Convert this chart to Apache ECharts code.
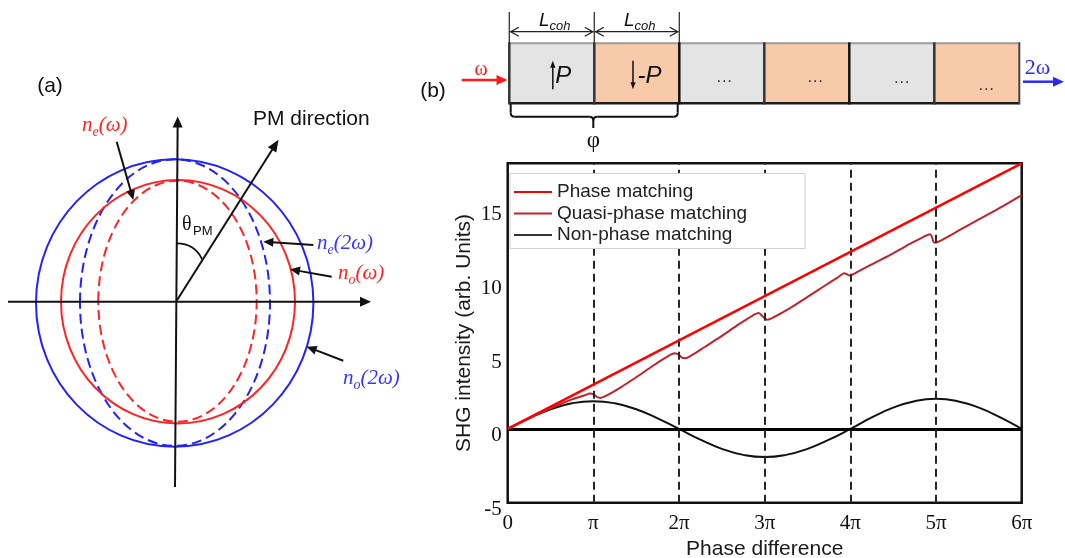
<!DOCTYPE html>
<html>
<head>
<meta charset="utf-8">
<script src="https://cdn.jsdelivr.net/npm/echarts@6/dist/echarts.min.js"></script>
<style>
  html, body { margin: 0; padding: 0; background: #fff; }
  #chart { width: 1065px; height: 558px; }
</style>
</head>
<body>
<div id="chart"></div>
<script>
// ---- data (phase in units of π) ----
const phaseTickLabels = ['0', 'π', '2π', '3π', '4π', '5π', '6π'];

const pmPhase = [0, 6];
const pmIntensity = [0, 18];

const qpmPhase = [0, 0.25, 0.5, 0.75, 0.9, 0.96, 1.0, 1.04, 1.08, 1.15, 1.3, 1.5, 1.7, 1.85, 1.95,
  2.0, 2.03, 2.07, 2.15, 2.3, 2.5, 2.7, 2.85, 2.93, 2.98, 3.03, 3.1, 3.3, 3.5, 3.7, 3.85, 3.93,
  3.96, 3.99, 4.1, 4.3, 4.5, 4.7, 4.85, 4.93, 4.95, 4.98, 5.05, 5.3, 5.5, 5.75, 6.0];
const qpmIntensity = [0, 0.74, 1.40, 2.0, 2.28, 2.40, 2.36, 2.18, 2.10, 2.25, 2.75, 3.50, 4.30, 4.85, 5.13,
  5.02, 4.85, 4.79, 5.00, 5.55, 6.30, 7.10, 7.65, 7.85, 7.60, 7.40, 7.55, 8.20, 8.95, 9.70, 10.25, 10.55,
  10.48, 10.40, 10.70, 11.30, 11.90, 12.55, 13.00, 13.20, 13.05, 12.62, 12.75, 13.55, 14.20, 15.00, 15.85];

const npmPhase = [0, 0.25, 0.5, 0.75, 1, 1.25, 1.5, 1.75, 2, 2.25, 2.5, 2.75, 3, 3.25, 3.5, 3.75,
  4, 4.25, 4.5, 4.75, 5, 5.25, 5.5, 5.75, 6];
const npmIntensity = [0, 0.72, 1.33, 1.74, 1.88, 1.74, 1.33, 0.72, 0, -0.73, -1.35, -1.76, -1.91, -1.76, -1.35, -0.73,
  0, 0.78, 1.44, 1.88, 2.04, 1.88, 1.44, 0.78, 0];

const markedPhases = [1, 2, 3, 4, 5];

// periodically poled crystal: sign of polarization per coherence length
const domainSigns = [1, -1, 1, -1, 1, -1];
const domainLabels = ['P', '-P', '…', '…', '…', '…'];

// ---- helpers ----
const SANS = "'Liberation Sans', Arial, sans-serif";
const SERIF = "'Liberation Serif', 'Times New Roman', serif";
const zip = (xs, ys) => xs.map((x, i) => [x, ys[i]]);

function arrowEls(xa, ya, xb, yb, color, lw, hl, hw) {
  const dx = xb - xa, dy = yb - ya, L = Math.hypot(dx, dy);
  const ux = dx / L, uy = dy / L;
  const bx = xb - ux * hl, by = yb - uy * hl;
  return [
    { type: 'line', silent: true, shape: { x1: xa, y1: ya, x2: bx + ux, y2: by + uy },
      style: { stroke: color, lineWidth: lw } },
    { type: 'polygon', silent: true,
      shape: { points: [[xb, yb], [bx - uy * hw, by + ux * hw], [bx + uy * hw, by - ux * hw]] },
      style: { fill: color } }
  ];
}

function chevron(x, y, dir, color) {
  // open arrow head pointing left (dir=-1) or right (dir=1)
  return { type: 'polyline', silent: true,
    shape: { points: [[x - dir * 8, y - 4.5], [x, y], [x - dir * 8, y + 4.5]] },
    style: { stroke: color, lineWidth: 1.3, fill: 'none' } };
}

function indexLabel(x, y, sub, arg, color) {
  return { type: 'text', silent: true,
    style: { x: x, y: y, text: '{n|n}{s|' + sub + '}{n|(' + arg + ')}', fill: color,
      align: 'left', verticalAlign: 'middle',
      rich: {
        n: { fontFamily: SERIF, fontStyle: 'italic', fontSize: 21, lineHeight: 28, fill: color },
        s: { fontFamily: SERIF, fontStyle: 'italic', fontSize: 14, lineHeight: 14, verticalAlign: 'bottom', fill: color }
      } } };
}

// ---- panel (a): index ellipsoid cross-section ----
const RED = '#ff2323', BLUE = '#2222ff';
const panelA = [
  { type: 'text', silent: true, style: { x: 50, y: 86, text: '(a)', font: '21px ' + SANS, fill: '#111', align: 'center', verticalAlign: 'middle' } },
  { type: 'ellipse', silent: true, shape: { cx: 174.7, cy: 303, rx: 138.7, ry: 143.7 }, style: { fill: 'none', stroke: BLUE, lineWidth: 2 } },
  { type: 'ellipse', silent: true, shape: { cx: 175, cy: 302.6, rx: 95, ry: 143.3 }, style: { fill: 'none', stroke: BLUE, lineWidth: 2, lineDash: [10, 5] } },
  { type: 'ellipse', silent: true, shape: { cx: 178, cy: 301.7, rx: 117, ry: 121.7 }, style: { fill: 'none', stroke: RED, lineWidth: 2 } },
  { type: 'ellipse', silent: true, shape: { cx: 177.5, cy: 301.2, rx: 79.2, ry: 120.5 }, style: { fill: 'none', stroke: RED, lineWidth: 2, lineDash: [10, 5] } },
  ...arrowEls(8, 301.7, 371, 301.7, '#111', 2, 11, 5),
  ...arrowEls(175, 487, 177.7, 116.5, '#111', 2, 11, 5),
  ...arrowEls(176.7, 300.7, 278.5, 139.7, '#111', 2, 12, 5),
  { type: 'bezierCurve', silent: true, shape: { x1: 176.7, y1: 243.3, x2: 202.3, y2: 259.5, cpx1: 195, cpy1: 243.5 },
    style: { stroke: '#111', lineWidth: 1.8, fill: 'none' } },
  { type: 'text', silent: true, style: { x: 182, y: 225, text: 'θ', font: '20px ' + SERIF, fill: '#111', align: 'left', verticalAlign: 'middle' } },
  { type: 'text', silent: true, style: { x: 193, y: 231.5, text: 'PM', font: '13px ' + SANS, fill: '#111', align: 'left', verticalAlign: 'middle' } },
  { type: 'text', silent: true, style: { x: 253, y: 119, text: 'PM direction', font: '21px ' + SANS, fill: '#111', align: 'left', verticalAlign: 'middle' } },
  indexLabel(82, 125, 'e', 'ω', RED),
  indexLabel(317, 243, 'e', '2ω', '#3636ff'),
  indexLabel(338, 273, 'o', 'ω', RED),
  indexLabel(343, 378, 'o', '2ω', '#3636ff'),
  ...arrowEls(116.7, 141.7, 133.3, 200, '#111', 2, 10, 4.5),
  ...arrowEls(313.3, 245, 263.3, 241.7, '#111', 2, 10, 4.5),
  ...arrowEls(331.7, 276.7, 290, 269.3, '#111', 2, 10, 4.5),
  ...arrowEls(343.3, 360.7, 306.7, 346.7, '#111', 2, 10, 4.5)
];

// ---- panel (b) extras: labels and beam arrows ----
const panelB = [
  { type: 'text', silent: true, style: { x: 433, y: 91, text: '(b)', font: '21px ' + SANS, fill: '#111', align: 'center', verticalAlign: 'middle' } },
  ...arrowEls(461.7, 80, 507.5, 80, '#ff1a1a', 2.5, 11, 5),
  { type: 'text', silent: true, style: { x: 481, y: 70, text: 'ω', font: '20px ' + SERIF, fill: '#ff1a1a', align: 'center', verticalAlign: 'middle' } },
  ...arrowEls(1023, 81.7, 1064, 81.7, '#2a2aff', 2.5, 11, 5),
  { type: 'text', silent: true, style: { x: 1037.5, y: 68, text: '2ω', font: '22px ' + SERIF, fill: '#2a2aff', align: 'center', verticalAlign: 'middle' } }
];

// ---- domain cells drawn on the hidden phase scale ----
function renderDomain(params, api) {
  const idx = params.dataIndex;
  const i = api.value(0), sign = api.value(1);
  const p0 = api.coord([i, 1]);
  const p1 = api.coord([i + 1, 0]);
  const x0 = p0[0], y0 = p0[1], x1 = p1[0], y1 = p1[1];
  const w = x1 - x0, cx = (x0 + x1) / 2;
  const dark = '#1c1c1c';
  const kids = [
    { type: 'rect', shape: { x: x0, y: y0, width: w, height: y1 - y0 }, style: { fill: sign > 0 ? '#e4e4e4' : '#f7caa9' } },
    { type: 'line', shape: { x1: x0, y1: y0, x2: x1, y2: y0 }, style: { stroke: '#9c9c9c', lineWidth: 2 } },
    { type: 'line', shape: { x1: x0, y1: y1, x2: x1, y2: y1 }, style: { stroke: dark, lineWidth: 2.5 } },
    { type: 'line', shape: { x1: x0, y1: y0 - 1, x2: x0, y2: y1 + 1.2 }, style: { stroke: idx % 2 === 0 && idx > 0 ? '#111' : '#333', lineWidth: 2.5 } }
  ];
  if (idx === domainSigns.length - 1) {
    kids.push({ type: 'line', shape: { x1: x1, y1: y0 - 1, x2: x1, y2: y1 + 1.2 }, style: { stroke: '#444', lineWidth: 2 } });
  }
  const label = domainLabels[idx];
  if (idx < 2) {
    const ax = x0 + (sign > 0 ? 43.5 : 38.7);
    const top = y0 + 17.5, bot = y0 + 46;
    kids.push(...arrowEls(ax, sign > 0 ? bot : top, ax, sign > 0 ? top : bot, '#111', 1.5, 7, 2.6));
    kids.push({ type: 'text', style: { x: ax + (sign > 0 ? 2.5 : 4.5), y: y0 + 33, text: label,
      font: 'italic 24px ' + SANS, fill: '#111', align: 'left', verticalAlign: 'middle' } });
    // coherence-length dimension
    kids.push({ type: 'line', shape: { x1: x0, y1: 12, x2: x0, y2: y0 }, style: { stroke: '#333', lineWidth: 1.3 } });
    if (idx === 1) kids.push({ type: 'line', shape: { x1: x1, y1: 12, x2: x1, y2: y0 }, style: { stroke: '#333', lineWidth: 1.3 } });
    kids.push({ type: 'line', shape: { x1: x0 + 1, y1: 31.7, x2: x1 - 1, y2: 31.7 }, style: { stroke: '#222', lineWidth: 1.3 } });
    kids.push(chevron(x0 + 1.5, 31.7, -1, '#222'), chevron(x1 - 1.5, 31.7, 1, '#222'));
    kids.push({ type: 'text', style: { x: cx + 3, y: 21, text: '{l|L}{s|coh}', align: 'center', verticalAlign: 'middle',
      rich: {
        l: { fontFamily: SANS, fontStyle: 'italic', fontSize: 19, lineHeight: 24, fill: '#111' },
        s: { fontFamily: SANS, fontStyle: 'italic', fontSize: 13, lineHeight: 13, verticalAlign: 'bottom', fill: '#111' }
      } } });
    if (idx === 0) {
      // brace spanning one poling period, labelled φ
      const bl = x0 + 1.4, br = x0 + 2 * w - 1.6, mid = x0 + w - 1, yb = 116.7;
      const st = { stroke: '#111', lineWidth: 2, fill: 'none' };
      kids.push(
        { type: 'line', shape: { x1: bl, y1: 104, x2: bl, y2: yb - 4 }, style: st },
        { type: 'bezierCurve', shape: { x1: bl, y1: yb - 4, x2: bl + 4, y2: yb, cpx1: bl, cpy1: yb }, style: st },
        { type: 'line', shape: { x1: bl + 4, y1: yb, x2: mid - 4, y2: yb }, style: st },
        { type: 'bezierCurve', shape: { x1: mid - 4, y1: yb, x2: mid, y2: yb + 4, cpx1: mid, cpy1: yb }, style: st },
        { type: 'line', shape: { x1: mid, y1: yb + 4, x2: mid, y2: 128 }, style: st },
        { type: 'bezierCurve', shape: { x1: mid + 4, y1: yb, x2: mid, y2: yb + 4, cpx1: mid, cpy1: yb }, style: st },
        { type: 'line', shape: { x1: mid + 4, y1: yb, x2: br - 4, y2: yb }, style: st },
        { type: 'bezierCurve', shape: { x1: br - 4, y1: yb, x2: br, y2: yb - 4, cpx1: br, cpy1: yb }, style: st },
        { type: 'line', shape: { x1: br, y1: yb - 4, x2: br, y2: 104 }, style: st },
        { type: 'text', style: { x: mid, y: 141, text: 'φ', font: '23px ' + SERIF, fill: '#111', align: 'center', verticalAlign: 'middle' } }
      );
    }
  } else {
    const dx = [45, 51, 52.5, 52][idx - 2];
    const dy = [77, 77, 78, 85][idx - 2];
    kids.push({ type: 'text', style: { x: x0 + dx, y: dy, text: label, font: '17px ' + SANS, fill: '#333',
      align: 'center', verticalAlign: 'middle' } });
  }
  return { type: 'group', children: kids };
}

const chart = echarts.init(document.getElementById('chart'), null, { renderer: 'canvas' });

const option = {
  animation: false,
  backgroundColor: '#fff',
  textStyle: { fontFamily: SANS },
  grid: [
    { left: 507.7, right: 43.3, top: 163.3, bottom: 55.3, show: true, borderColor: '#111', borderWidth: 2.5,
      backgroundColor: 'transparent', containLabel: false, outerBoundsMode: 'none' },
    { left: 509.3, right: 45.7, top: 43.3, height: 60, containLabel: false, outerBoundsMode: 'none' }
  ],
  xAxis: [
    { type: 'value', gridIndex: 0, min: 0, max: 6, interval: 1,
      name: 'Phase difference', nameLocation: 'middle', nameGap: 34,
      nameTextStyle: { fontFamily: SANS, fontSize: 21, color: '#1a1a1a' },
      axisLine: { show: false }, axisTick: { show: false }, splitLine: { show: false },
      axisLabel: { formatter: v => phaseTickLabels[Math.round(v)], fontFamily: SERIF, fontSize: 21, color: '#111', margin: 10 } },
    { type: 'value', gridIndex: 1, min: 0, max: 6, show: false }
  ],
  yAxis: [
    { type: 'value', gridIndex: 0, min: -5, max: 18, interval: 5,
      name: 'SHG intensity (arb. Units)', nameLocation: 'middle', nameGap: 33, nameRotate: 90,
      nameTextStyle: { fontFamily: SANS, fontSize: 21, color: '#1a1a1a' },
      axisLine: { show: false }, axisTick: { show: false }, splitLine: { show: false },
      axisLabel: { showMaxLabel: false, fontFamily: SERIF, fontSize: 21, color: '#111', margin: 6,
        verticalAlign: 'top', lineHeight: 14 } },
    { type: 'value', gridIndex: 1, min: 0, max: 1, show: false }
  ],
  legend: {
    orient: 'vertical', left: 510, top: 173.5, z: 20,
    icon: 'rect', itemWidth: 38, itemHeight: 2, itemGap: 2.5,
    padding: [9, 58, 4, 4],
    backgroundColor: '#fff', borderColor: '#d0d0d0', borderWidth: 1,
    textStyle: { fontFamily: SANS, fontSize: 19, color: '#222', lineHeight: 19 },
    data: ['Phase matching', 'Quasi-phase matching', 'Non-phase matching']
  },
  series: [
    { type: 'line', name: 'Non-phase matching', xAxisIndex: 0, yAxisIndex: 0,
      data: zip(npmPhase, npmIntensity), smooth: true, symbol: 'none',
      lineStyle: { color: '#111', width: 2 }, itemStyle: { color: '#333' }, z: 3,
      markLine: {
        silent: true, symbol: 'none', label: { show: false }, animation: false,
        data: [
          { yAxis: 0, lineStyle: { type: 'solid', width: 3, color: '#000' } },
          ...markedPhases.map(p => ({ xAxis: p, lineStyle: { type: [8, 5], width: 2, color: '#262626' } }))
        ]
      } },
    { type: 'line', name: 'Quasi-phase matching', xAxisIndex: 0, yAxisIndex: 0,
      data: zip(qpmPhase, qpmIntensity), smooth: 0.3, symbol: 'none',
      lineStyle: { color: '#c0242a', width: 2 }, itemStyle: { color: '#c0242a' }, z: 4 },
    { type: 'line', name: 'Phase matching', xAxisIndex: 0, yAxisIndex: 0,
      data: zip(pmPhase, pmIntensity), symbol: 'none',
      lineStyle: { color: '#ff0000', width: 2.5 }, itemStyle: { color: '#ff0000' }, z: 5 },
    { type: 'custom', name: 'domains', xAxisIndex: 1, yAxisIndex: 1,
      data: domainSigns.map((s, i) => [i, s]), renderItem: renderDomain, clip: false, silent: true }
  ],
  graphic: [...panelA, ...panelB]
};

chart.setOption(option);
</script>
</body>
</html>
